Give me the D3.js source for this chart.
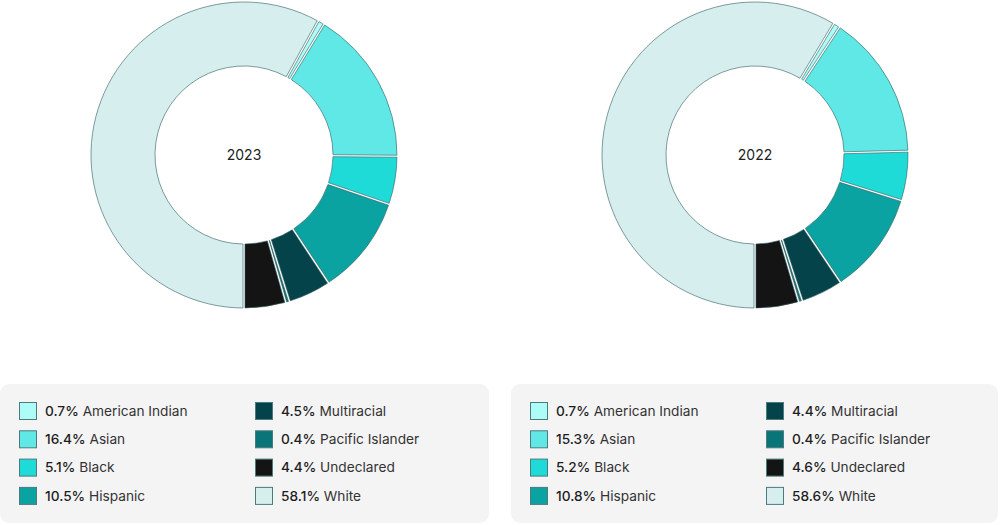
<!DOCTYPE html>
<html><head><meta charset="utf-8">
<script src="https://cdn.jsdelivr.net/npm/d3@7"></script>
<style>
html,body{margin:0;padding:0;background:#fff;}
svg{display:block;font-family:Inter,"Noto Sans",sans-serif;}
</style></head>
<body>
<svg id="chart" width="1000" height="525"></svg>
<script>
const categories = ["American Indian","Asian","Black","Hispanic","Multiracial","Pacific Islander","Undeclared","White"];
const colors = ["#aefcf7","#60e8e7","#1fdbd8","#0aa3a1","#04434a","#0a7579","#141414","#d7eeee"];
const years = ["2023","2022"];
const values2023 = [0.7,16.4,5.1,10.5,4.5,0.4,4.4,58.1];
const values2022 = [0.7,15.3,5.2,10.8,4.4,0.4,4.6,58.6];
const seriesValues = [values2023, values2022];

const svg = d3.select("#chart");
const centers = [{x:244,y:155},{x:755,y:155}];
const panels = [{x:0,w:489},{x:511,w:487}];
const outerR = 153, innerR = 89;

const arc = d3.arc().innerRadius(innerR).outerRadius(outerR).padAngle(0.013).padRadius(150);

seriesValues.forEach((vals, i) => {
  // White (last) starts at the bottom; preceding slices run clockwise up to it
  const nonWhite = d3.sum(vals.slice(0, -1));
  const total = d3.sum(vals);
  const start = Math.PI - 2 * Math.PI * nonWhite / total;
  const pie = d3.pie().sort(null).value(d => d).startAngle(start).endAngle(start + 2 * Math.PI);
  const g = svg.append("g").attr("transform", `translate(${centers[i].x},${centers[i].y})`);
  g.selectAll("path").data(pie(vals)).join("path")
    .attr("d", arc)
    .attr("fill", (d, j) => colors[j])
    .attr("stroke", "#2f5d5e")
    .attr("stroke-width", 0.6);
  g.append("text").attr("text-anchor", "middle").attr("dy", "0.35em")
    .attr("font-size", 14).attr("fill", "#222").text(years[i]);

  // legend panel
  const p = panels[i];
  const lg = svg.append("g").attr("transform", `translate(${p.x},384)`);
  lg.append("rect").attr("x", 0).attr("y", 0).attr("width", p.w).attr("height", 139)
    .attr("rx", 9).attr("fill", "#f4f4f4");
  categories.forEach((c, j) => {
    const col = Math.floor(j / 4), row = j % 4;
    const x = 19 + col * 236, y = 18 + row * 28.3;
    lg.append("rect").attr("x", x + 0.5).attr("y", y + 0.5).attr("width", 17).attr("height", 17)
      .attr("fill", colors[j]).attr("stroke", "#4d7b7c").attr("stroke-width", 1);
    const t = lg.append("text").attr("x", x + 26).attr("y", y + 9).attr("dy", "0.35em")
      .attr("font-size", 13.7).attr("fill", "#1e1e1e");
    t.append("tspan").attr("font-weight", 500).text(vals[j].toFixed(1) + "%");
    t.append("tspan").attr("font-weight", 400).attr("fill", "#333").text(" " + c);
  });
});
</script>
</body></html>
